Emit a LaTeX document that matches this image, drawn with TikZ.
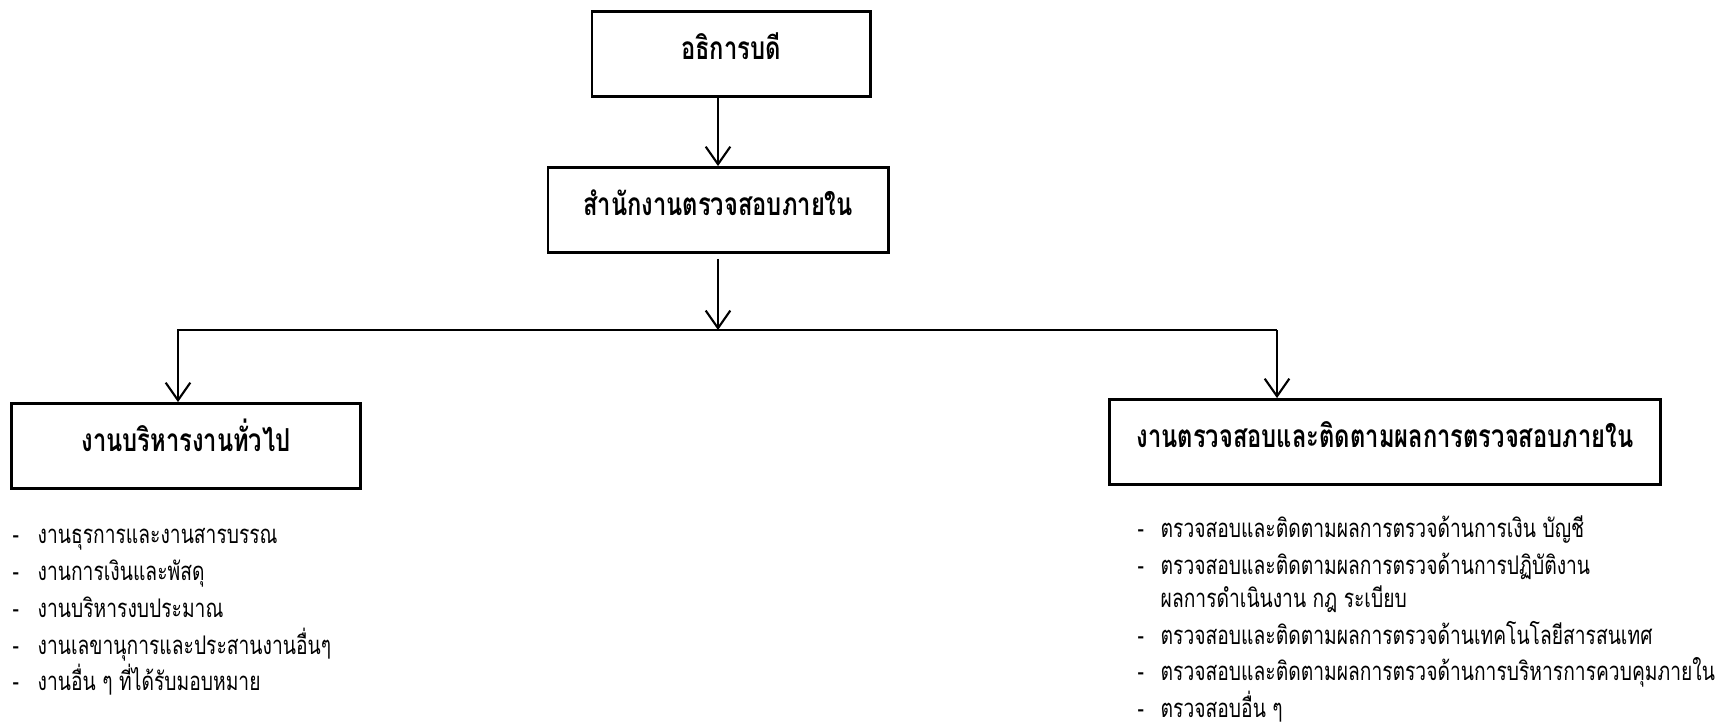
\documentclass[tikz,border=0pt]{standalone}
\usepackage{fontspec}
\setmainfont[Script=Thai,FakeStretch=0.75]{Loma}
\usetikzlibrary{arrows.meta}

\begin{document}
\begin{tikzpicture}[x=0.01cm,y=-0.01cm,
  box/.style={draw,thick,minimum height=0.85cm,inner sep=0pt,text height=0.3cm,text depth=0.2cm,font=\fontsize{9}{10}\selectfont\bfseries},
  worklist/.style={anchor=north west,inner sep=0pt,align=left,font=\fontsize{7.3}{10.45}\selectfont},
  >={Straight Barb[length=5pt,width=7pt]}]

\useasboundingbox (0,0) rectangle (1722,724);

\node[box,minimum width=2.78cm] (rector) at (731,54) {อธิการบดี};
\node[box,minimum width=3.40cm] (office) at (718,210) {สำนักงานตรวจสอบภายใน};
\node[box,minimum width=3.48cm] (admin) at (186,446) {งานบริหารงานทั่วไป};
\node[box,minimum width=5.50cm] (audit) at (1385,442) {งานตรวจสอบและติดตามผลการตรวจสอบภายใน};

\coordinate (barL) at (178,330);
\coordinate (barR) at (1277,330);
\coordinate (bar) at (office |- barL);

\draw[semithick,->] (rector.south -| office) -- (office.north);
\draw[semithick,->] ([yshift=-0.05cm]office.south) -- (bar);
\draw[semithick,->] (barR) -- (barL) -- (barL |- admin.north);
\draw[semithick,->] (barR) -- (barR |- audit.north);

\node[worklist] (adminlist) at (12,528) {%
\makebox[0.25cm][l]{-}งานธุรการและงานสารบรรณ\\
\makebox[0.25cm][l]{-}งานการเงินและพัสดุ\\
\makebox[0.25cm][l]{-}งานบริหารงบประมาณ\\
\makebox[0.25cm][l]{-}งานเลขานุการและประสานงานอื่นๆ\\
\makebox[0.25cm][l]{-}งานอื่น ๆ ที่ได้รับมอบหมาย};

\node[worklist] (auditlist) at (1137,515) {%
\makebox[0.23cm][l]{-}ตรวจสอบและติดตามผลการตรวจด้านการเงิน บัญชี\\
\makebox[0.23cm][l]{-}ตรวจสอบและติดตามผลการตรวจด้านการปฏิบัติงาน\\[-1pt]
\hspace{0.23cm}ผลการดำเนินงาน กฎ ระเบียบ\\
\makebox[0.23cm][l]{-}ตรวจสอบและติดตามผลการตรวจด้านเทคโนโลยีสารสนเทศ\\
\makebox[0.23cm][l]{-}ตรวจสอบและติดตามผลการตรวจด้านการบริหารการควบคุมภายใน\\
\makebox[0.23cm][l]{-}ตรวจสอบอื่น ๆ};

\end{tikzpicture}
\end{document}
